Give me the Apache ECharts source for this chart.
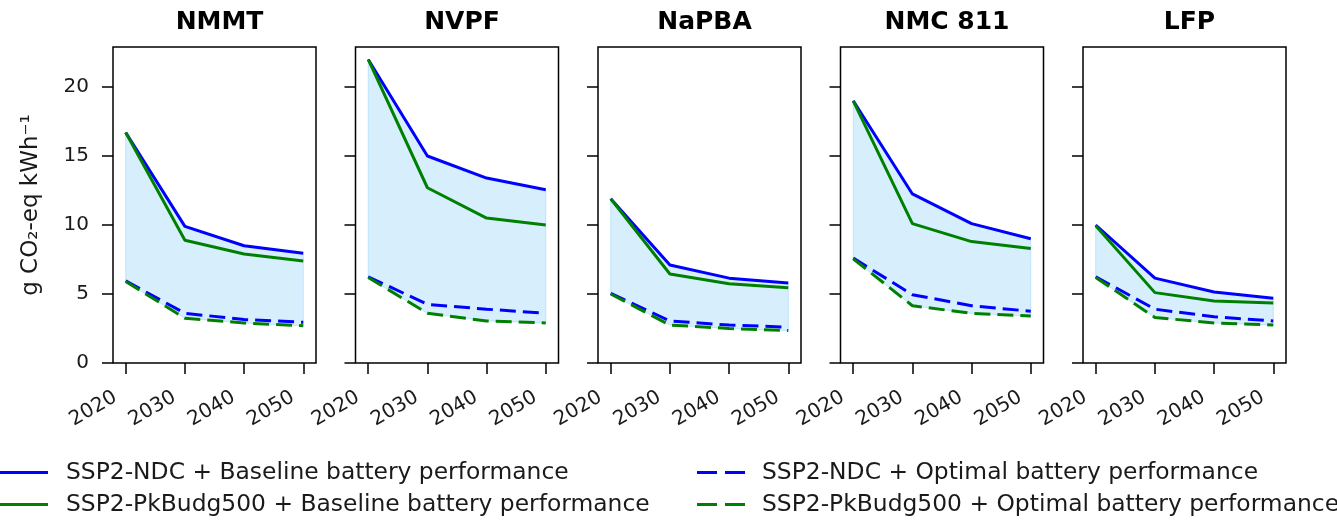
<!DOCTYPE html>
<html>
<head>
<meta charset="utf-8">
<script src="https://cdn.jsdelivr.net/npm/echarts@6/dist/echarts.min.js"></script>
<style>
html, body { margin: 0; padding: 0; background: #fff; }
#main { width: 1337px; height: 521px; }
</style>
</head>
<body>
<div id="main"></div>
<script>
var years = [2020, 2030, 2040, 2050];
var chemistries = ['NMMT', 'NVPF', 'NaPBA', 'NMC 811', 'LFP'];
var yTicks = [0, 5, 10, 15, 20];

// g CO2-eq / kWh, one row per chemistry
var ndcBaseline = [
  [16.7, 9.9, 8.5, 7.95],
  [22.0, 15.0, 13.4, 12.55],
  [11.9, 7.1, 6.15, 5.8],
  [19.0, 12.25, 10.1, 9.0],
  [10.0, 6.15, 5.15, 4.7]
];
var pkBaseline = [
  [16.7, 8.9, 7.9, 7.4],
  [22.0, 12.7, 10.5, 10.0],
  [11.9, 6.45, 5.75, 5.45],
  [19.0, 10.1, 8.8, 8.3],
  [9.95, 5.1, 4.5, 4.35]
];
var ndcOptimal = [
  [5.95, 3.6, 3.15, 2.95],
  [6.25, 4.25, 3.9, 3.6],
  [5.05, 3.05, 2.75, 2.6],
  [7.6, 4.95, 4.15, 3.75],
  [6.25, 3.9, 3.35, 3.05]
];
var pkOptimal = [
  [5.9, 3.25, 2.9, 2.7],
  [6.2, 3.6, 3.05, 2.9],
  [5.0, 2.75, 2.5, 2.35],
  [7.55, 4.15, 3.6, 3.4],
  [6.2, 3.3, 2.9, 2.75]
];

var names = [
  'SSP2-NDC + Baseline battery performance',
  'SSP2-PkBudg500 + Baseline battery performance',
  'SSP2-NDC + Optimal battery performance',
  'SSP2-PkBudg500 + Optimal battery performance'
];

function pairs(vals) {
  return years.map(function (y, k) { return [y, vals[k]]; });
}

// polygon between the highest and the lowest scenario
function bandRenderer(hi, lo) {
  return function (params, api) {
    var pts = [];
    for (var k = 0; k < years.length; k++) pts.push(api.coord([years[k], hi[k]]));
    for (var k2 = years.length - 1; k2 >= 0; k2--) pts.push(api.coord([years[k2], lo[k2]]));
    return { type: 'polygon', shape: { points: pts },
      style: { fill: 'rgba(135,206,250,0.33)', stroke: 'rgba(135,206,250,0.45)', lineWidth: 1 } };
  };
}

var txt = '#1a1a1a';
var grids = [], xAxes = [], yAxes = [], titles = [], series = [];

for (var i = 0; i < chemistries.length; i++) {
  var left = 113 + i * 242.5;
  grids.push({ left: left, top: 47, width: 203, height: 316, show: true,
    borderColor: '#000', borderWidth: 1.5, backgroundColor: 'transparent' });
  titles.push({ text: chemistries[i], left: left + 101.5, top: 5, textAlign: 'center',
    textStyle: { fontFamily: 'DejaVu Sans', fontWeight: 'bold', fontSize: 25, color: '#000' } });
  xAxes.push({
    type: 'value', gridIndex: i, min: 2017.85, max: 2052.15,
    splitLine: { show: false },
    axisLine: { show: false },
    axisTick: { show: true, length: 11, lineStyle: { color: '#000', width: 1.5 }, customValues: years },
    axisLabel: { show: true, rotate: 30, margin: 27, padding: [0, 12, 0, 0], fontSize: 20,
      fontFamily: 'DejaVu Sans', color: txt, customValues: years,
      formatter: function (v) { return String(v); } }
  });
  yAxes.push({
    type: 'value', gridIndex: i, min: 0, max: 22.9,
    splitLine: { show: false },
    axisLine: { show: false },
    axisTick: { show: true, length: 11, lineStyle: { color: '#000', width: 1.5 }, customValues: yTicks },
    axisLabel: { show: i === 0, margin: 24, fontSize: 20, fontFamily: 'DejaVu Sans', color: txt,
      customValues: yTicks },
    name: i === 0 ? 'g CO\u2082-eq kWh\u207B\u00B9' : '',
    nameLocation: 'middle', nameGap: 70, nameRotate: 90,
    nameTextStyle: { fontSize: 23, fontFamily: 'DejaVu Sans', color: txt }
  });

  series.push({
    name: 'band', type: 'custom', xAxisIndex: i, yAxisIndex: i, silent: true, z: 1,
    data: [[years[0], pkOptimal[i][0]]],
    renderItem: bandRenderer(ndcBaseline[i], pkOptimal[i])
  });

  var sets = [ndcBaseline[i], pkBaseline[i], ndcOptimal[i], pkOptimal[i]];
  var colors = ['#0000ff', '#008000', '#0000ff', '#008000'];
  for (var s = 0; s < 4; s++) {
    series.push({
      name: names[s], type: 'line', xAxisIndex: i, yAxisIndex: i,
      data: pairs(sets[s]), symbol: 'none', z: 3 + s,
      itemStyle: { color: colors[s] },
      lineStyle: { color: colors[s], width: 3, type: s < 2 ? 'solid' : [16, 7] }
    });
  }
}

var solidIcon = 'path://M0,0h48v3h-48z';
var dashIcon = 'path://M0,0h20v3h-20z M28,0h20v3h-20z';

var option = {
  animation: false,
  backgroundColor: '#fff',
  title: titles,
  grid: grids,
  xAxis: xAxes,
  yAxis: yAxes,
  legend: [
    { data: [{ name: names[0], icon: solidIcon }, { name: names[1], icon: solidIcon }],
      orient: 'vertical', left: 0, top: 461, padding: 0, itemWidth: 48, itemHeight: 3,
      itemGap: 9, selectedMode: false,
      textStyle: { fontSize: 23.4, fontFamily: 'DejaVu Sans', color: txt, padding: [0, 0, 0, 13] } },
    { data: [{ name: names[2], icon: dashIcon }, { name: names[3], icon: dashIcon }],
      orient: 'vertical', left: 697, top: 461, padding: 0, itemWidth: 48, itemHeight: 3,
      itemGap: 9, selectedMode: false,
      textStyle: { fontSize: 23.4, fontFamily: 'DejaVu Sans', color: txt, padding: [0, 0, 0, 12] } }
  ],
  series: series
};

var chart = echarts.init(document.getElementById('main'));
chart.setOption(option);
</script>
</body>
</html>
